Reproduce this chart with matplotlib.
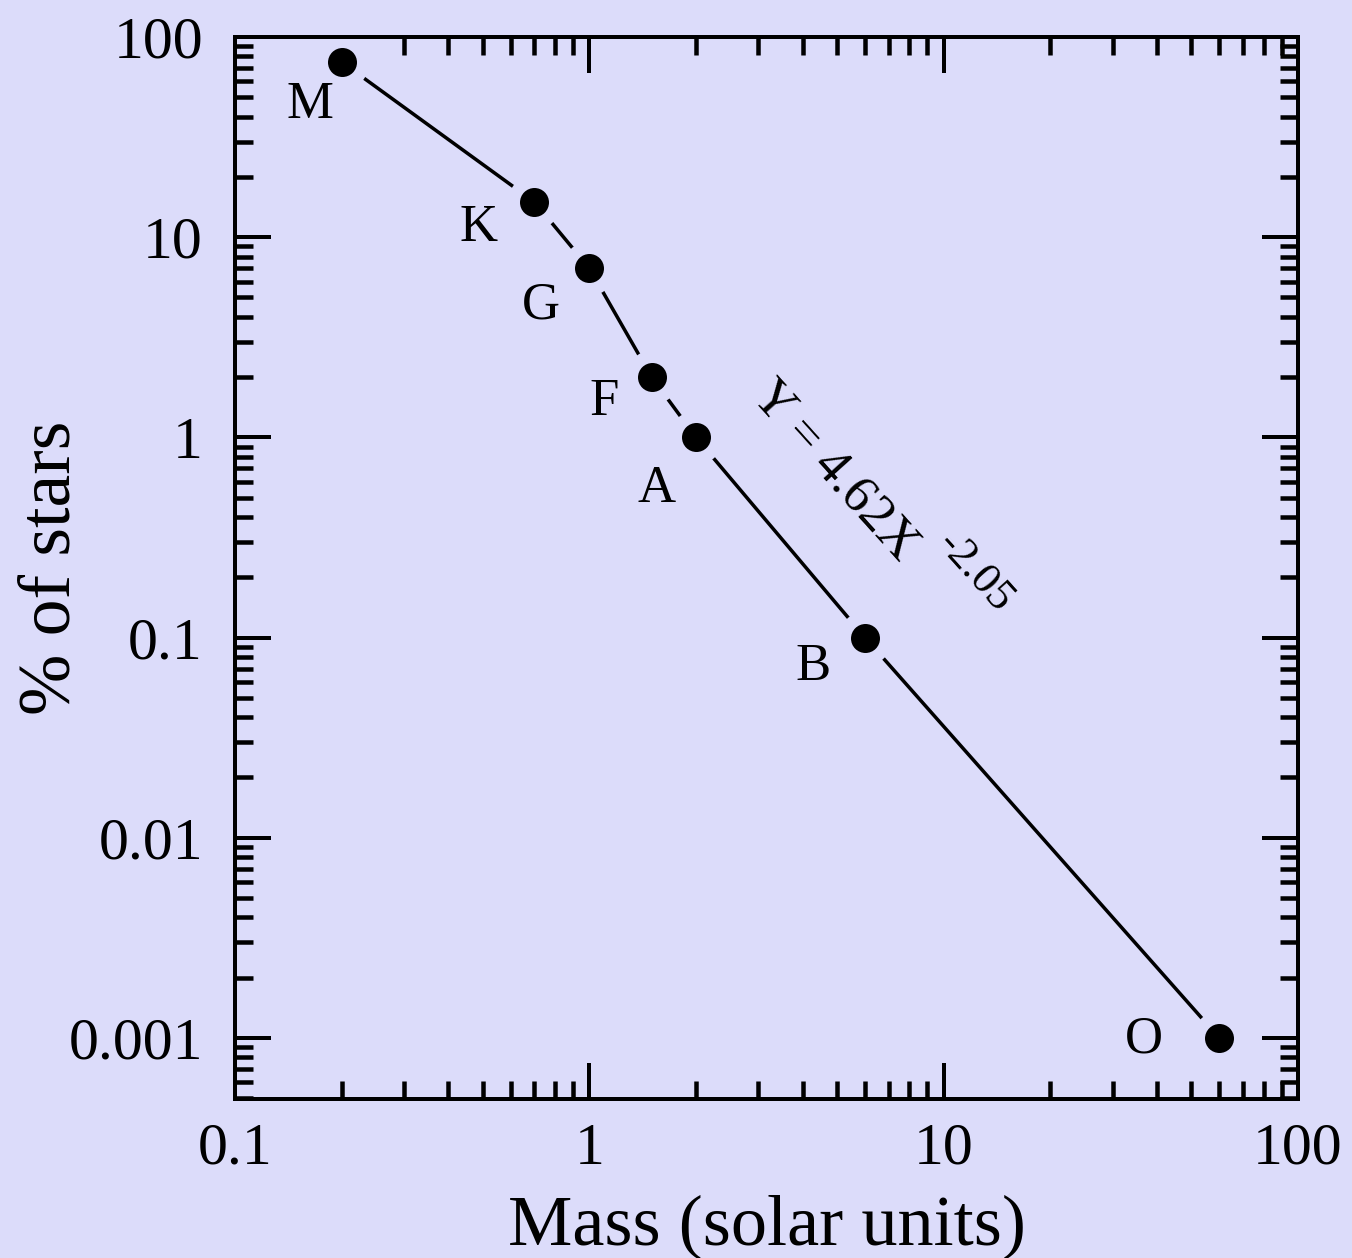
import matplotlib
matplotlib.use('Agg')
import matplotlib.pyplot as plt

# star classes: mass (solar units) vs percentage of stars
classes = ['M', 'K', 'G', 'F', 'A', 'B', 'O']
mass = [0.2, 0.7, 1.0, 1.5, 2.0, 6.0, 60.0]
percent = [75, 15, 7, 2, 1, 0.1, 0.001]
# label offsets in pixels (dx, dy) from each point
label_dx = [-32, -56, -48, -48, -39, -52, -75]
label_dy = [-43, -26, -37, -25, -52, -29, -2]

xticks = [0.1, 1, 10, 100]
xticklabels = ['0.1', '1', '10', '100']
yticks = [0.001, 0.01, 0.1, 1, 10, 100]
yticklabels = ['0.001', '0.01', '0.1', '1', '10', '100']

bg = '#dcdcfa'
px = 72 / 100.0  # points per pixel at dpi 100

plt.rcParams['font.family'] = ['Liberation Serif', 'DejaVu Serif']

fig = plt.figure(figsize=(13.52, 12.58), dpi=100, facecolor=bg)
ax = fig.add_axes([0.1738, 0.1264, 0.960 - 0.1738, 0.9706 - 0.1264])
ax.set_facecolor(bg)
ax.set_xscale('log')
ax.set_yscale('log')
ax.set_xlim(0.1, 100)
ax.set_ylim(10 ** -3.305, 100)

ax.plot(mass, percent, color='black', lw=3.5 * px, zorder=1)
ax.plot(mass, percent, ls='none', marker='o', ms=54 * px, mfc=bg, mec='none', zorder=2)
ax.plot(mass, percent, ls='none', marker='o', ms=29 * px, mfc='black', mec='none', zorder=3)

for c, x, y, dx, dy in zip(classes, mass, percent, label_dx, label_dy):
    ax.annotate(c, (x, y), xytext=(dx, dy), textcoords='offset pixels',
                ha='center', va='center', fontsize=38)

# fit equation, written along the line
ax.text(4.94, 0.684, 'Y = 4.62X', rotation=-48, rotation_mode='anchor',
        ha='center', va='center', fontsize=38)
ax.text(12.2, 0.212, '-2.05', rotation=-48, rotation_mode='anchor',
        ha='center', va='center', fontsize=32)

ax.set_xticks(xticks, xticklabels)
ax.set_yticks(yticks, yticklabels)
for spine in ax.spines.values():
    spine.set_linewidth(4 * px)
ax.tick_params(which='both', direction='in', top=True, right=True, color='black')
ax.tick_params(which='major', length=36 * px, width=4 * px, labelsize=43)
ax.tick_params(which='minor', length=18 * px, width=4.5 * px)
ax.tick_params(axis='x', which='major', pad=24 * px)
ax.tick_params(axis='y', which='major', pad=32 * px)

ax.set_xlabel('Mass (solar units)', fontsize=52, va='baseline')
ax.xaxis.set_label_coords(0.5, -0.1375)
ax.set_ylabel('% of stars', fontsize=53, va='center')
ax.yaxis.set_label_coords(-0.172, 0.5)

fig.savefig('out.png', dpi=100, facecolor=bg)
